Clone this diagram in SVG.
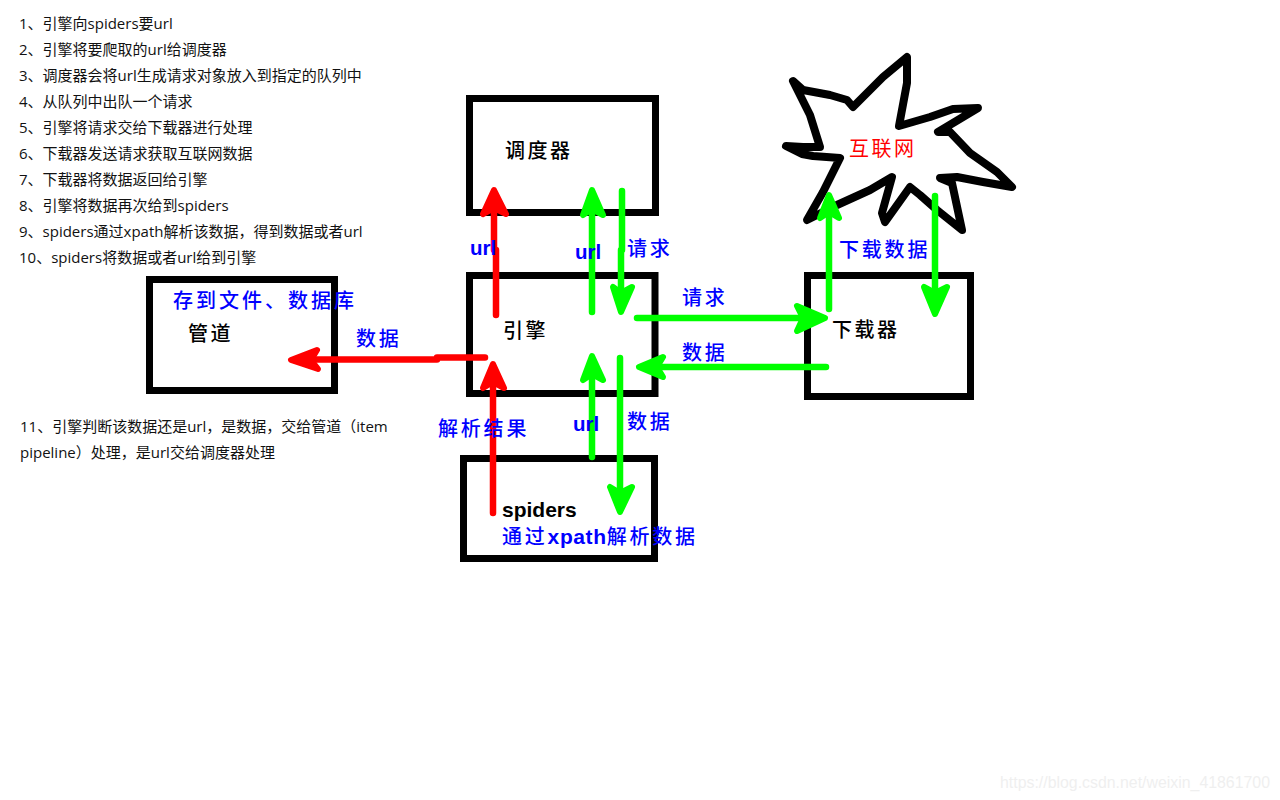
<svg xmlns="http://www.w3.org/2000/svg" width="1280" height="800" viewBox="0 0 1280 800">
<style>
text{font-family:"Noto Sans CJK SC","Liberation Sans",sans-serif}
.box{fill:none;stroke:#000;stroke-width:7}
.list text{font-family:"Open Sans","Noto Sans CJK SC",sans-serif;font-size:15px;fill:#111}
.lb{font-size:20px;fill:#000;letter-spacing:2.5px;font-weight:500}
.bl{font-size:20px;fill:#0000ff;letter-spacing:2.8px;font-weight:500}
.en{font-family:"Liberation Sans",sans-serif;font-weight:bold;font-size:20.500px}
.g{fill:none;stroke:#00ff00;stroke-width:6.500;stroke-linecap:round;stroke-linejoin:round}
.r{fill:none;stroke:#ff0000;stroke-width:6.500;stroke-linecap:round;stroke-linejoin:round}
.gh{fill:#00ff00;stroke:#00ff00;stroke-width:6;stroke-linejoin:round}
.rh{fill:#ff0000;stroke:#ff0000;stroke-width:6;stroke-linejoin:round}
</style>
<rect width="1280" height="800" fill="#fff"/>
<g id="steps" class="list">
<text x="19" y="29">1、引擎向spiders要url</text>
<text x="19" y="55">2、引擎将要爬取的url给调度器</text>
<text x="19" y="81">3、调度器会将url生成请求对象放入到指定的队列中</text>
<text x="19" y="107">4、从队列中出队一个请求</text>
<text x="19" y="133">5、引擎将请求交给下载器进行处理</text>
<text x="19" y="159">6、下载器发送请求获取互联网数据</text>
<text x="19" y="185">7、下载器将数据返回给引擎</text>
<text x="19" y="211">8、引擎将数据再次给到spiders</text>
<text x="19" y="237">9、spiders通过xpath解析该数据，得到数据或者url</text>
<text x="19" y="263">10、spiders将数据或者url给到引擎</text>
<text x="20" y="432">11、引擎判断该数据还是url，是数据，交给管道（item</text>
<text x="20" y="458">pipeline）处理，是url交给调度器处理</text>
</g>
<g id="node-scheduler">
<rect class="box" x="469.500" y="98.500" width="186" height="114"/>
<text class="lb" x="505" y="158">调度器</text>
</g>
<g id="node-engine">
<rect class="box" x="469.500" y="275.500" width="185.500" height="118"/>
<text class="lb" x="503" y="338">引擎</text>
</g>
<g id="node-downloader">
<rect class="box" x="807.500" y="275.500" width="163" height="121"/>
<text class="lb" x="832" y="337">下载器</text>
</g>
<g id="node-pipeline">
<rect class="box" x="149.500" y="279.500" width="185" height="111"/>
<text class="lb" x="188" y="341">管道</text>
<text class="bl" x="173" y="308" style="letter-spacing:3px">存到文件、数据库</text>
</g>
<g id="node-spiders">
<rect class="box" x="463.500" y="458.500" width="191" height="100"/>
<text class="en" x="502" y="517" fill="#000" style="font-size:21px">spiders</text>
<text x="502" y="544" class="bl">通过<tspan class="en" style="letter-spacing:.6px;font-size:21px">xpath</tspan>解析数据</text>
</g>
<g id="node-internet">
<path d="M807 220L823 192L840 158L813 156L802 154L786 146L803 147L820 147L810 115L793 81L803 90L830 95L847 100L853 107L883 77L907 57L907 83L899 126L930 117L953 109L978 108L938 132L950 132L970 153L997 172L1012 187L983 182L957 177L940 178L952 183L962 230L937 210L920 195L910 187L885 222L882 213L892 177L870 190L837 205Z" fill="none" stroke="#000" stroke-width="8" stroke-linejoin="round" stroke-linecap="round"/>
<text x="849" y="156" font-size="20" fill="#ff0000" letter-spacing="2.500">互联网</text>
</g>
<g id="connectors">
<path class="r" d="M496 315V250M494 250V200"/><path class="rh" d="M483 214L494 190L506 214L494 208Z"/>
<path class="g" d="M592 312V200"/><path class="gh" d="M583 215L592 190L603 215L592 209Z"/>
<path class="g" d="M622 191V250M621 250V300"/><path class="gh" d="M613 287L621 312L632 287L621 293Z"/>
<path class="g" d="M637 318H815"/><path class="gh" d="M797 306L825 318L797 331L803 318Z"/>
<path class="g" d="M826 367H650"/><path class="gh" d="M663 357L639 367L663 377L657 367Z"/>
<path class="g" d="M592 457V366"/><path class="gh" d="M583 380L592 356L603 380L592 374Z"/>
<path class="g" d="M620 358V500"/><path class="gh" d="M610 487L620 512L632 487L620 493Z"/>
<path class="r" d="M493 513V376"/><path class="rh" d="M483 388L493 364L504 388L493 382Z"/>
<path class="r" d="M485 357.500H437M437 359.500H302"/><path class="rh" d="M317 350L291 360L318 369L311 360Z"/>
<path class="g" d="M829 309V205"/><path class="gh" d="M820 218L829 195L839 218L829 212Z"/>
<path class="g" d="M935 196V302"/><path class="gh" d="M924 287L935 314L947 287L935 293Z"/>
</g>
<g id="labels">
<text class="en" x="470" y="255" fill="#0000ff">url</text>
<text class="en" x="575" y="259" fill="#0000ff">url</text>
<text class="en" x="573" y="431" fill="#0000ff">url</text>
<text class="bl" x="627" y="256">请求</text>
<text class="bl" x="682" y="305">请求</text>
<text class="bl" x="682" y="360">数据</text>
<text class="bl" x="356" y="346">数据</text>
<text class="bl" x="627" y="429">数据</text>
<text class="bl" x="438" y="436">解析结果</text>
<text class="bl" x="839" y="257">下载数据</text>
</g>
<text id="watermark" x="1000" y="788" font-size="16" fill="#efefef" textLength="270" lengthAdjust="spacingAndGlyphs" style="font-family:'Liberation Sans',sans-serif">https://blog.csdn.net/weixin_41861700</text>
</svg>
